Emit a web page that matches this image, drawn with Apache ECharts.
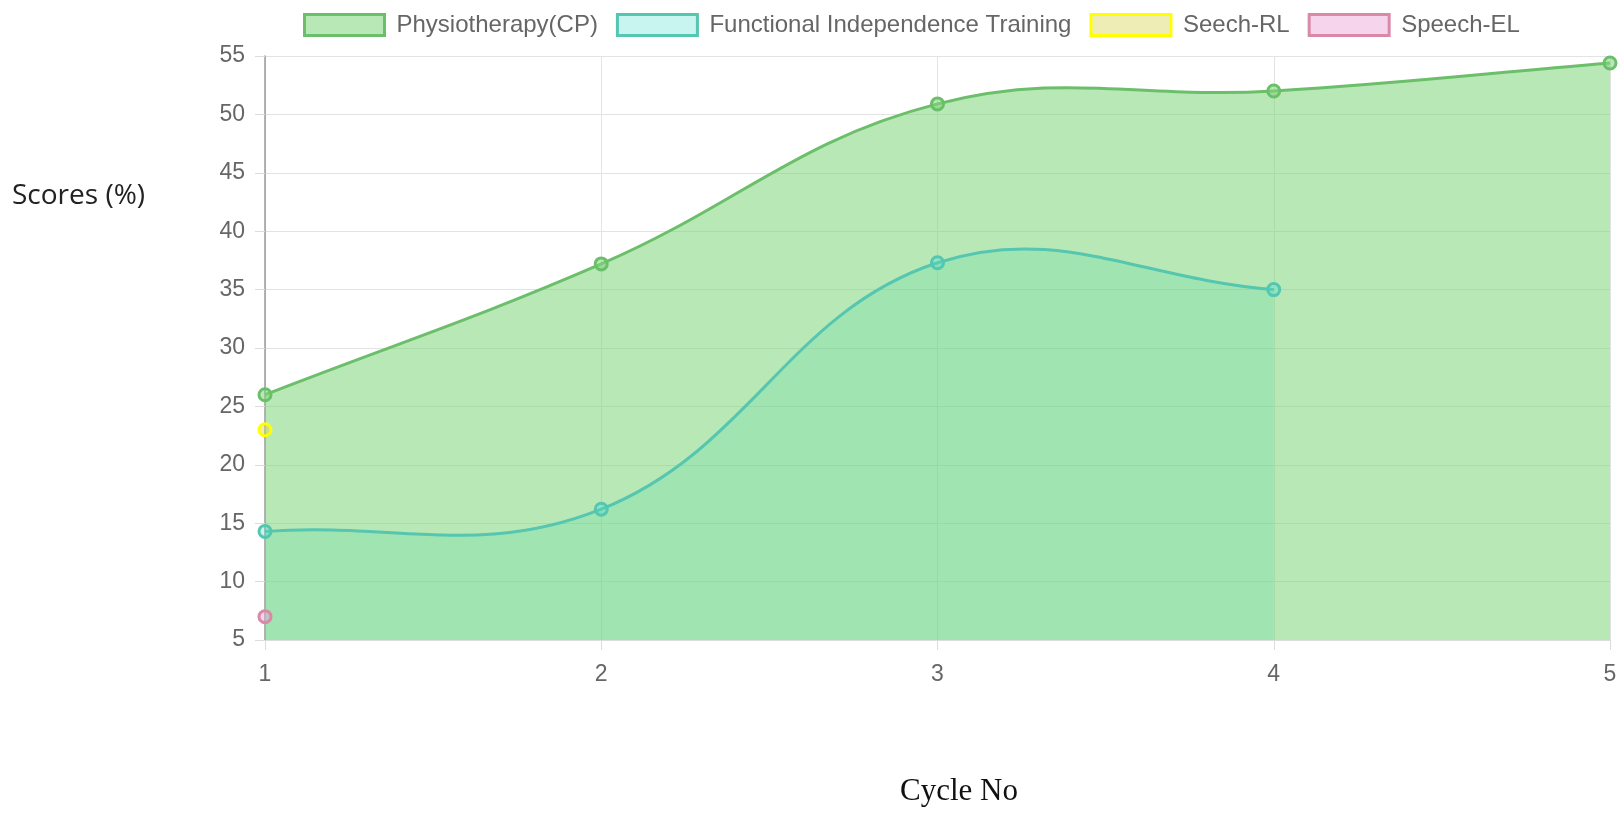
<!DOCTYPE html>
<html>
<head>
<meta charset="utf-8">
<script src="https://cdn.jsdelivr.net/npm/echarts@6/dist/echarts.min.js"></script>
<style>
html,body{margin:0;padding:0;background:#fff;}
#chart{width:1623px;height:814px;}
</style>
</head>
<body>
<div id="chart"></div>
<script>
const cycles = [1, 2, 3, 4, 5];
const seriesNames = ['Physiotherapy(CP)', 'Functional Independence Training', 'Seech-RL', 'Speech-EL'];
const physio = [26, 37.2, 50.9, 52, 54.4];
const fit = [14.3, 16.2, 37.3, 35];
const seechRL = [23];
const speechEL = [7];
const yTicks = [5, 55, 5]; // min, max, step
const xTitle = 'Cycle No';
const yTitle = 'Scores (%)';

const lineColors = ['#6cbf6a', '#55c6b0', '#ffff00', '#d98aa8'];
const fillColors = ['rgba(128,213,124,0.55)', 'rgba(72,222,205,0.3)', 'rgba(215,215,90,0.45)', 'rgba(235,160,210,0.45)'];
const TENSION = 0.4;

function pairs(vals) { return vals.map((v, i) => [cycles[i], v]); }

// Chart.js-style cubic bezier control points, computed in pixel space from library coords
function controlPoints(pts) {
  const out = [];
  for (let i = 0; i < pts.length; i++) {
    const prev = pts[Math.max(i - 1, 0)];
    const cur = pts[i];
    const next = pts[Math.min(i + 1, pts.length - 1)];
    const d01 = Math.hypot(cur[0] - prev[0], cur[1] - prev[1]);
    const d12 = Math.hypot(next[0] - cur[0], next[1] - cur[1]);
    let s01 = d01 / (d01 + d12), s12 = d12 / (d01 + d12);
    if (isNaN(s01)) s01 = 0;
    if (isNaN(s12)) s12 = 0;
    const fa = TENSION * s01, fb = TENSION * s12;
    out.push({
      prev: [cur[0] - fa * (next[0] - prev[0]), cur[1] - fa * (next[1] - prev[1])],
      next: [cur[0] + fb * (next[0] - prev[0]), cur[1] + fb * (next[1] - prev[1])]
    });
  }
  return out;
}

function curveSeries(idx, vals, z, mode) {
  return {
    name: seriesNames[idx],
    type: 'custom',
    z: z,
    silent: true,
    data: pairs(vals),
    encode: { x: 0, y: 1 },
    renderItem: function (params, api) {
      if (params.dataIndex !== 0) return null;
      const cs = params.coordSys;
      const clampY = y => Math.min(Math.max(y, cs.y), cs.y + cs.height);
      const pts = vals.map((v, i) => api.coord([cycles[i], v]));
      const cps = controlPoints(pts);
      let d = 'M' + pts[0][0] + ' ' + pts[0][1];
      for (let i = 1; i < pts.length; i++) {
        const c1 = cps[i - 1].next, c2 = cps[i].prev;
        d += ' C' + c1[0] + ' ' + clampY(c1[1]) + ' ' + c2[0] + ' ' + clampY(c2[1]) + ' ' + pts[i][0] + ' ' + pts[i][1];
      }
      if (mode === 'area') {
        const baseY = api.coord([cycles[0], yTicks[0]])[1];
        const area = d + ' L' + pts[pts.length - 1][0] + ' ' + baseY + ' L' + pts[0][0] + ' ' + baseY + ' Z';
        return { type: 'path', shape: { pathData: area }, style: { fill: fillColors[idx], stroke: null } };
      }
      return { type: 'path', shape: { pathData: d }, style: { fill: null, stroke: lineColors[idx], lineWidth: 3 } };
    },
    animation: false
  };
}

function pointSeries(idx, vals, z) {
  return {
    name: seriesNames[idx],
    type: 'line',
    data: pairs(vals),
    z: z,
    symbol: 'circle',
    symbolSize: 12,
    showAllSymbol: true,
    lineStyle: { width: 0, opacity: 0 },
    itemStyle: { color: fillColors[idx], borderColor: lineColors[idx], borderWidth: 3 },
    emphasis: { disabled: true },
    animation: false
  };
}

const chart = echarts.init(document.getElementById('chart'));
chart.setOption({
  animation: false,
  grid: { left: 265, right: 13, top: 56, bottom: 174, containLabel: false },
  legend: {
    top: 8,
    left: 298,
    icon: 'rect',
    itemWidth: 80,
    itemHeight: 21,
    itemGap: 18,
    textStyle: { fontSize: 24, color: '#666', fontFamily: 'Liberation Sans, Arial, sans-serif', padding: [0, 0, 0, 7] },
    data: seriesNames.map((n, i) => ({
      name: n,
      itemStyle: { color: fillColors[i], borderColor: lineColors[i], borderWidth: 3 }
    }))
  },
  xAxis: {
    type: 'value',
    min: cycles[0],
    max: cycles[cycles.length - 1],
    interval: 1,
    axisLine: { show: true, lineStyle: { color: '#dcdcdc', width: 1 } },
    axisTick: { show: true, length: 10, lineStyle: { color: '#dcdcdc' } },
    splitLine: { show: true, lineStyle: { color: '#e3e3e3', width: 1 } },
    axisLabel: { fontSize: 23, color: '#666', fontFamily: 'Liberation Sans, Arial, sans-serif', margin: 23 }
  },
  yAxis: {
    type: 'value',
    min: yTicks[0],
    max: yTicks[1],
    interval: yTicks[2],
    axisLine: { show: true, lineStyle: { color: '#9a9a9a', width: 1.5 } },
    axisTick: { show: true, length: 10, lineStyle: { color: '#dcdcdc' } },
    splitLine: { show: true, lineStyle: { color: '#e3e3e3', width: 1 } },
    axisLabel: { fontSize: 23, color: '#666', fontFamily: 'Liberation Sans, Arial, sans-serif', margin: 20 }
  },
  graphic: [
    { type: 'text', left: 12, top: 182, style: { text: yTitle, font: '28px "Open Sans", sans-serif', fill: '#222' } },
    { type: 'text', left: 900, top: 776, style: { text: xTitle, font: '31px "Liberation Serif", serif', fill: '#111' } }
  ],
  series: [
    curveSeries(1, fit, 2, 'area'),
    curveSeries(0, physio, 3, 'area'),
    pointSeries(2, seechRL, 4),
    pointSeries(3, speechEL, 4),
    curveSeries(1, fit, 5, 'line'),
    pointSeries(1, fit, 6),
    curveSeries(0, physio, 7, 'line'),
    pointSeries(0, physio, 8)
  ]
});
</script>
</body>
</html>
